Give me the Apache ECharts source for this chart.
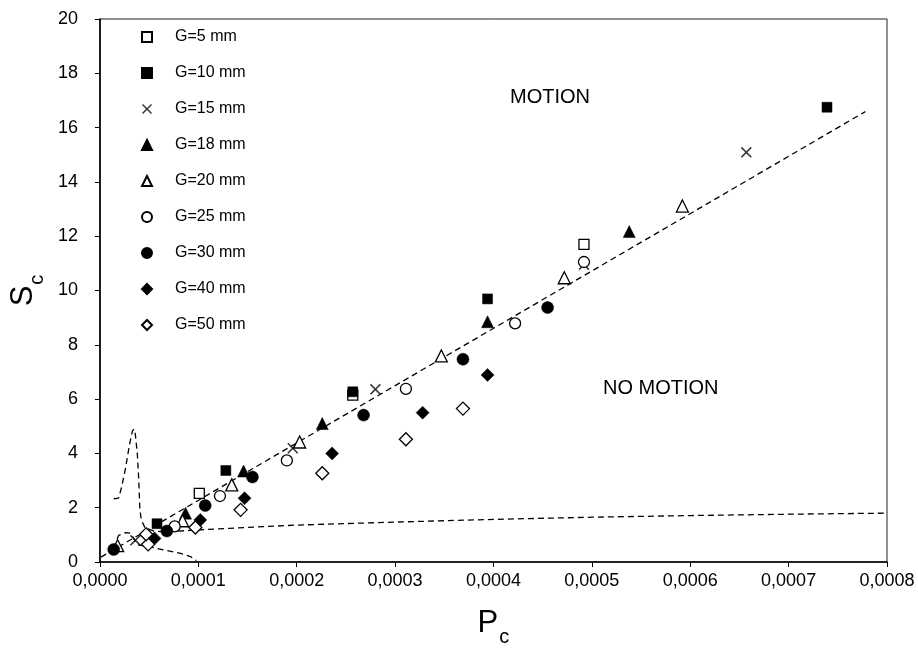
<!DOCTYPE html>
<html>
<head>
<meta charset="utf-8">
<script src="https://cdn.jsdelivr.net/npm/echarts@6/dist/echarts.min.js"></script>
<style>
html,body{margin:0;padding:0;background:#fff;}
#c{width:918px;height:653px;}
</style>
</head>
<body>
<div id="c"></div>
<script>
// ---- data (x = Pc, y = Sc) ----
const g5  = [[0.000101, 2.53], [0.000257, 6.15], [0.000492, 11.70]];
const g10 = [[0.000058, 1.41], [0.000128, 3.37], [0.000257, 6.27], [0.000394, 9.69], [0.000739, 16.75]];
const g15 = [[0.000036, 0.80], [0.000196, 4.19], [0.000280, 6.36], [0.000492, 10.95], [0.000657, 15.09]];
const g18 = [[0.000087, 1.80], [0.000146, 3.35], [0.000226, 5.10], [0.000394, 8.85], [0.000538, 12.17]];
const g20 = [[0.000018, 0.60], [0.000084, 1.52], [0.000134, 2.84], [0.000203, 4.42], [0.000347, 7.59], [0.000472, 10.47], [0.000592, 13.11]];
const g25 = [[0.000076, 1.31], [0.000122, 2.43], [0.000190, 3.74], [0.000311, 6.38], [0.000422, 8.79], [0.000492, 11.05]];
const g30 = [[0.000014, 0.46], [0.000068, 1.14], [0.000107, 2.08], [0.000155, 3.13], [0.000268, 5.41], [0.000369, 7.47], [0.000455, 9.37]];
const g40 = [[0.0000555, 0.87], [0.000102, 1.55], [0.000147, 2.35], [0.000236, 4.00], [0.000328, 5.50], [0.000394, 6.89]];
const g50 = [[0.000049, 0.65], [0.000047, 1.02], [0.000097, 1.27], [0.000143, 1.92], [0.000226, 3.27], [0.000311, 4.52], [0.000369, 5.65]];

const trendLine = [[0.000001, 0.18], [0.000778, 16.59]];
const boundaryA = [[0.000014, 2.33], [0.000019, 2.35], [0.000022, 2.75], [0.000026, 3.45], [0.000029, 4.1], [0.000031, 4.5],
  [0.000033, 4.82], [0.0000345, 4.9], [0.000036, 4.7], [0.000038, 4.0], [0.0000395, 3.0], [0.0000405, 2.0], [0.000042, 1.55],
  [0.000046, 1.25], [0.000055, 1.14], [0.000065, 1.11], [0.00009, 1.16], [0.000132, 1.24], [0.000166, 1.30], [0.0002, 1.36],
  [0.0003, 1.47], [0.0004, 1.57], [0.0005, 1.65], [0.0006, 1.71], [0.0007, 1.76], [0.0008, 1.80]];
const boundaryB = [[0.0000175, 0.85], [0.000019, 0.98], [0.000021, 1.03], [0.000026, 1.08], [0.000031, 1.06], [0.000034, 0.9],
  [0.000036, 0.75], [0.000039, 0.63], [0.000041, 0.6], [0.000051, 0.56], [0.000065, 0.44], [0.000082, 0.32], [0.000092, 0.2], [0.000098, 0.05]];

const xTicks = ['0,0000','0,0001','0,0002','0,0003','0,0004','0,0005','0,0006','0,0007','0,0008'];
const regionLabels = ['MOTION', 'NO MOTION'];

const FONT = '"Liberation Sans", Arial, sans-serif';
const XMARK = 'path://M0,1L1,0L5,4L9,0L10,1L6,5L10,9L9,10L5,6L1,10L0,9L4,5Z';

function sc(name, data, symbol, size, filled) {
  return {
    name: name, type: 'scatter', data: data, symbol: symbol, symbolSize: size, z: 5,
    itemStyle: filled ? { color: '#000', borderColor: '#000', borderWidth: 0.5, opacity: 1 }
                      : { color: '#fff', borderColor: '#000', borderWidth: 1.3, opacity: 1 },
    emphasis: { disabled: true }
  };
}
function dash(data) {
  return { type: 'line', data: data, showSymbol: false, symbol: 'none', z: 2, silent: true,
    lineStyle: { color: '#000', width: 1.3, type: [6, 4] }, smooth: false };
}

const chart = echarts.init(document.getElementById('c'), null, { renderer: 'canvas' });
const option = {
  animation: false,
  backgroundColor: '#fff',
  textStyle: { fontFamily: FONT },
  grid: { left: 96, right: 31, top: 19, bottom: 91, show: true, borderColor: '#222', borderWidth: 1, containLabel: false },
  xAxis: {
    type: 'value', min: 0, max: 0.0008, interval: 0.0001,
    axisLine: { show: true, onZero: false, lineStyle: { color: '#000', width: 1.6 } },
    axisTick: { show: true, length: 5, lineStyle: { color: '#000', width: 1 } },
    splitLine: { show: false },
    axisLabel: { color: '#000', fontSize: 18, fontFamily: FONT, margin: 10,
      formatter: function (v) { return xTicks[Math.round(v / 0.0001)]; } },
    name: '{m|P}{s|c}', nameLocation: 'middle', nameGap: 46,
    nameTextStyle: { rich: { m: { fontSize: 31, fontFamily: FONT, color: '#000' },
                             s: { fontSize: 20, fontFamily: FONT, color: '#000', verticalAlign: 'bottom', padding: [0, 0, -8, 1] } } }
  },
  yAxis: {
    type: 'value', min: 0, max: 20, interval: 2,
    axisLine: { show: true, onZero: false, lineStyle: { color: '#000', width: 1.6 } },
    axisTick: { show: true, length: 5, lineStyle: { color: '#000', width: 1 } },
    splitLine: { show: false },
    axisLabel: { color: '#000', fontSize: 18, fontFamily: FONT, margin: 22 },
    name: '{m|S}{s|c}', nameLocation: 'middle', nameGap: 44, nameRotate: 90,
    nameTextStyle: { rich: { m: { fontSize: 31, fontFamily: FONT, color: '#000' },
                             s: { fontSize: 20, fontFamily: FONT, color: '#000', verticalAlign: 'bottom', padding: [0, 0, -8, 1] } } }
  },
  legend: {
    orient: 'vertical', left: 141, top: 29, padding: 0, itemWidth: 10, itemHeight: 10, itemGap: 20,
    selectedMode: false,
    data: ['G=5 mm','G=10 mm','G=15 mm','G=18 mm','G=20 mm','G=25 mm','G=30 mm','G=40 mm','G=50 mm'],
    formatter: function (n) { return '{g|}' + n; },
    textStyle: { fontSize: 16, fontFamily: FONT, color: '#000', lineHeight: 16, rich: { g: { width: 18 } } }
  },
  graphic: [
    { type: 'text', left: 510, top: 87, style: { text: regionLabels[0], font: '20px ' + FONT, fill: '#000' } },
    { type: 'text', left: 603, top: 378, style: { text: regionLabels[1], font: '20px ' + FONT, fill: '#000' } }
  ],
  series: [
    dash(trendLine), dash(boundaryA), dash(boundaryB),
    sc('G=5 mm', g5, 'rect', 10, false),
    sc('G=10 mm', g10, 'rect', 10, true),
    Object.assign(sc('G=15 mm', g15, XMARK, 11, true), { itemStyle: { color: '#000', borderWidth: 0 } }),
    sc('G=18 mm', g18, 'triangle', 12, true),
    sc('G=20 mm', g20, 'triangle', 12, false),
    sc('G=25 mm', g25, 'circle', 11, false),
    sc('G=30 mm', g30, 'circle', 12, true),
    sc('G=40 mm', g40, 'diamond', 13, true),
    sc('G=50 mm', g50, 'diamond', 13, false)
  ]
};
chart.setOption(option);
</script>
</body>
</html>
